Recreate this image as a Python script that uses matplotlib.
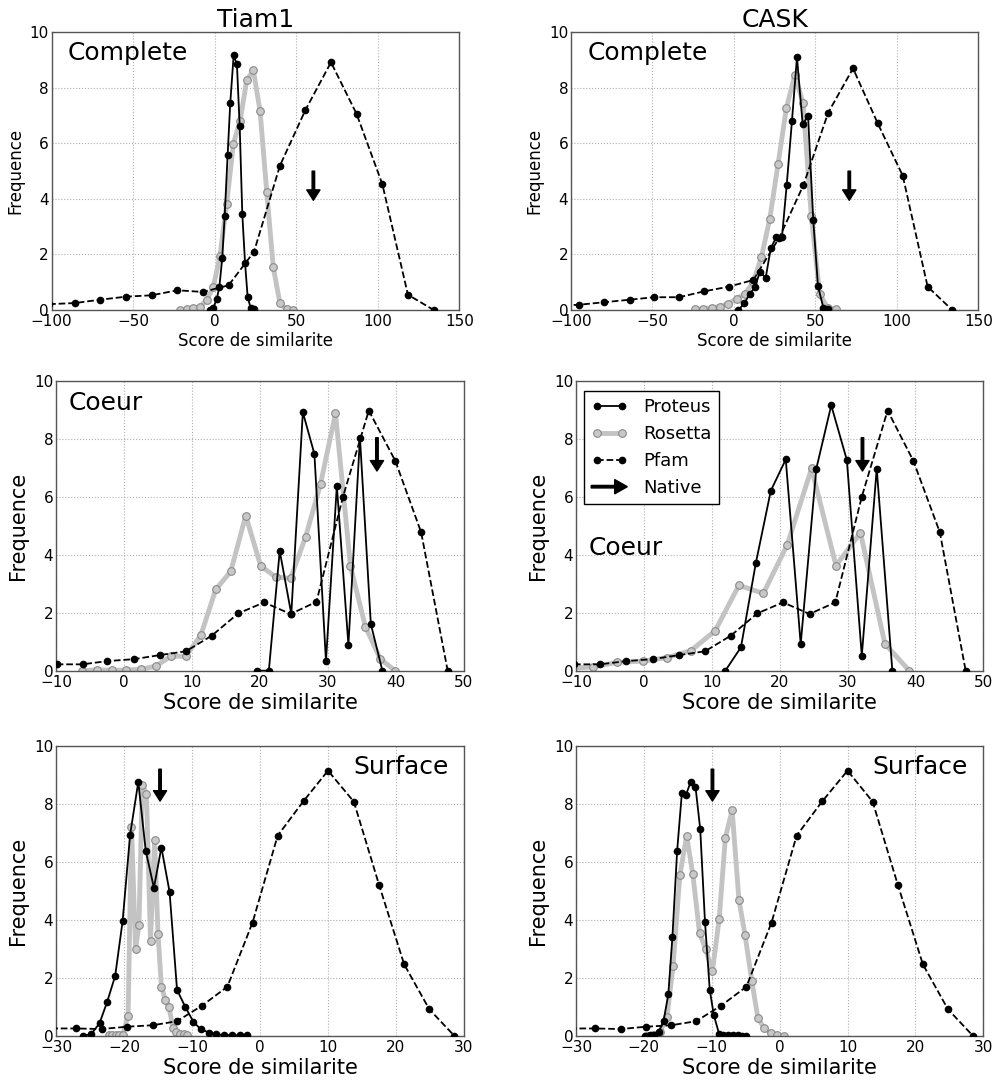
import numpy as np
import matplotlib
matplotlib.use("Agg")
import matplotlib.pyplot as plt
from matplotlib.lines import Line2D
from matplotlib.patches import FancyArrow
from matplotlib.legend_handler import HandlerPatch

# ---- Tiam1 / Complete
t1_comp_proteus_x = [-2.9, -0.9, 1.2, 2.8, 4.6, 6.1, 7.9, 9.5, 11.6, 13.6, 15.3, 16.9, 18.6, 20.2, 22.0, 24.1]
t1_comp_proteus_y = [0.0, 0.08, 0.39, 0.82, 1.86, 3.40, 5.57, 7.44, 9.17, 8.85, 6.63, 3.46, 1.68, 0.46, 0.08, 0.02]
t1_comp_rosetta_x = [-21.3, -17.2, -13.1, -9.0, -4.9, -0.9, 3.2, 7.3, 11.4, 15.5, 19.6, 23.7, 27.8, 31.9, 35.9, 40.0, 44.1, 48.2]
t1_comp_rosetta_y = [0.0, 0.02, 0.06, 0.11, 0.36, 0.82, 1.94, 3.82, 5.98, 6.79, 8.27, 8.63, 7.16, 4.25, 1.54, 0.24, 0.02, 0.01]
t1_comp_pfam_x = [-101.6, -85.9, -70.4, -54.4, -38.7, -22.9, -7.2, 8.5, 24.1, 40.0, 55.6, 71.3, 87.0, 102.8, 118.5, 134.3]
t1_comp_pfam_y = [0.21, 0.25, 0.37, 0.48, 0.53, 0.71, 0.65, 0.89, 2.1, 5.2, 7.2, 8.92, 7.06, 4.53, 0.55, 0.0]

# ---- CASK / Complete
ck_comp_proteus_x = [2.7, 6.4, 9.7, 12.9, 16.0, 19.5, 22.6, 26.0, 29.5, 32.4, 35.6, 38.7, 42.2, 45.5, 48.7, 51.6, 54.9, 57.9]
ck_comp_proteus_y = [0.0, 0.24, 0.58, 0.82, 1.38, 1.16, 2.22, 2.62, 2.63, 4.50, 6.79, 9.10, 6.69, 6.99, 3.23, 0.86, 0.08, 0.02]
ck_comp_rosetta_x = [-23.9, -18.8, -13.7, -8.6, -3.5, 1.6, 6.7, 11.8, 16.9, 22.0, 27.1, 32.2, 37.3, 42.4, 47.5, 52.6, 57.7, 62.8]
ck_comp_rosetta_y = [0.02, 0.05, 0.08, 0.12, 0.23, 0.41, 0.58, 1.00, 1.91, 3.28, 5.26, 7.27, 8.45, 7.47, 3.39, 0.58, 0.06, 0.02]
ck_comp_pfam_x = [-110.1, -94.9, -79.6, -64.0, -49.1, -33.7, -18.4, -3.2, 11.9, 27.8, 42.6, 57.9, 73.1, 88.2, 103.6, 118.9, 134.0]
ck_comp_pfam_y = [0.15, 0.19, 0.28, 0.37, 0.46, 0.46, 0.67, 0.84, 1.08, 2.60, 4.49, 7.11, 8.70, 6.73, 4.84, 0.84, 0.0]

# ---- Tiam1 / Coeur
t1_core_proteus_x = [19.5, 21.3, 22.9, 24.6, 26.3, 28.0, 29.7, 31.3, 33.0, 34.7, 36.3, 38.0]
t1_core_proteus_y = [0.0, 0.0, 4.14, 1.96, 8.93, 7.49, 0.33, 6.39, 0.89, 8.05, 1.61, 0.0]
t1_core_rosetta_x = [-6.2, -4.0, -1.8, 0.3, 2.5, 4.7, 6.9, 9.1, 11.3, 13.5, 15.7, 17.9, 20.1, 22.3, 24.5, 26.7, 28.9, 31.1, 33.3, 35.5, 37.7, 39.9]
t1_core_rosetta_y = [0.0, 0.03, 0.02, 0.02, 0.05, 0.16, 0.50, 0.50, 1.23, 2.81, 3.43, 5.36, 3.62, 3.24, 3.19, 4.62, 6.45, 8.89, 3.62, 1.52, 0.40, 0.0]
t1_core_pfam_x = [-9.9, -6.1, -2.5, 1.5, 5.3, 9.1, 12.9, 16.8, 20.6, 24.5, 28.3, 32.2, 36.0, 39.9, 43.7, 47.6]
t1_core_pfam_y = [0.22, 0.22, 0.33, 0.40, 0.54, 0.67, 1.21, 1.98, 2.36, 1.96, 2.38, 6.01, 8.99, 7.25, 4.78, 0.0]

# ---- CASK / Coeur
ck_core_proteus_x = [12.0, 14.3, 16.5, 18.7, 20.9, 23.1, 25.4, 27.6, 29.9, 32.1, 34.3, 36.6]
ck_core_proteus_y = [0.0, 0.81, 3.73, 6.22, 7.30, 0.92, 6.98, 9.17, 7.28, 0.51, 6.98, 0.0]
ck_core_rosetta_x = [-11.0, -7.5, -3.9, -0.2, 3.4, 6.9, 10.5, 14.0, 17.6, 21.1, 24.7, 28.3, 31.9, 35.5, 39.1]
ck_core_rosetta_y = [0.08, 0.13, 0.29, 0.33, 0.45, 0.69, 1.38, 2.95, 2.67, 4.34, 6.99, 3.63, 4.77, 0.93, 0.0]
ck_core_pfam_x = [-10.3, -6.5, -2.6, 1.3, 5.2, 9.0, 12.8, 16.7, 20.5, 24.4, 28.2, 32.1, 35.9, 39.7, 43.6, 47.4]
ck_core_pfam_y = [0.22, 0.22, 0.33, 0.40, 0.54, 0.67, 1.21, 1.98, 2.36, 1.96, 2.36, 6.01, 8.99, 7.25, 4.78, 0.0]

# ---- Tiam1 / Surface
t1_surf_proteus_x = [-26.0, -24.8, -23.6, -22.5, -21.3, -20.2, -19.1, -17.9, -16.8, -15.6, -14.5, -13.3, -12.2, -11.0, -9.8, -8.7, -7.5, -6.4, -5.3, -4.1, -2.9, -1.9]
t1_surf_proteus_y = [0.0, 0.07, 0.44, 1.16, 2.07, 3.97, 6.94, 8.76, 6.38, 5.11, 6.50, 4.97, 1.59, 1.01, 0.49, 0.23, 0.12, 0.06, 0.03, 0.03, 0.02, 0.02]
t1_surf_rosetta_x = [-22.2, -21.7, -21.2, -20.7, -20.2, -19.4, -18.9, -18.3, -17.8, -17.3, -16.7, -16.1, -15.5, -15.0, -14.5, -13.9, -13.4, -12.8, -12.3, -11.8, -11.2, -10.7]
t1_surf_rosetta_y = [0.02, 0.02, 0.02, 0.02, 0.03, 0.70, 7.22, 2.99, 3.84, 8.67, 8.33, 3.29, 6.76, 3.52, 1.70, 1.24, 1.01, 0.29, 0.13, 0.07, 0.07, 0.02]
t1_surf_pfam_x = [-30.7, -27.0, -23.3, -19.6, -15.8, -12.2, -8.5, -4.8, -1.1, 2.6, 6.4, 10.0, 13.8, 17.5, 21.2, 24.9, 28.6]
t1_surf_pfam_y = [0.26, 0.26, 0.24, 0.32, 0.37, 0.51, 1.05, 1.70, 3.91, 6.91, 8.10, 9.15, 8.08, 5.22, 2.47, 0.92, 0.0]

# ---- CASK / Surface
ck_surf_proteus_x = [-19.8, -19.1, -18.5, -17.8, -17.1, -16.4, -15.8, -15.1, -14.4, -13.8, -13.1, -12.4, -11.7, -11.0, -10.3, -9.7, -8.9, -8.3, -7.6, -6.9, -6.2, -5.6, -4.9]
ck_surf_proteus_y = [0.0, 0.02, 0.05, 0.15, 0.52, 1.44, 3.41, 6.39, 8.39, 8.32, 8.76, 8.60, 7.13, 3.94, 1.60, 0.72, 0.06, 0.03, 0.02, 0.02, 0.02, 0.01, 0.0]
ck_surf_rosetta_x = [-19.6, -18.6, -17.6, -16.6, -15.7, -14.7, -13.7, -12.8, -11.8, -10.9, -9.9, -8.9, -8.0, -7.0, -6.0, -5.1, -4.1, -3.2, -2.3, -1.3, -0.4, 0.6]
ck_surf_rosetta_y = [0.0, 0.02, 0.15, 0.66, 2.42, 5.55, 6.90, 5.59, 3.55, 2.99, 2.24, 4.05, 6.83, 7.78, 4.70, 3.48, 1.90, 0.61, 0.29, 0.09, 0.02, 0.0]
ck_surf_pfam_x = [-30.9, -27.2, -23.4, -19.7, -16.0, -12.3, -8.6, -4.9, -1.2, 2.5, 6.3, 10.0, 13.7, 17.4, 21.1, 24.8, 28.5]
ck_surf_pfam_y = [0.26, 0.26, 0.24, 0.32, 0.37, 0.51, 1.05, 1.70, 3.91, 6.91, 8.10, 9.15, 8.08, 5.22, 2.47, 0.92, 0.0]

# native score (arrow) per panel
native_x = {"t1_comp": 60.5, "ck_comp": 70.8, "t1_core": 37.2, "ck_core": 32.2, "t1_surf": -14.7, "ck_surf": -9.9}

proteins = ["Tiam1", "CASK"]
regions = ["Complete", "Coeur", "Surface"]

ROS_LINE = "#c3c3c3"
ROS_FACE = "#c8c8c8"
ROS_EDGE = "#8a8a8a"

W, H = 995, 1082
fig = plt.figure(figsize=(W / 100, H / 100), dpi=100, facecolor="white")


def make_ax(l, t, r, b):
    return fig.add_axes([l / W, 1 - b / H, (r - l) / W, (b - t) / H])


def draw(ax, prot, ros, pfam, nat, arrow_y, xlim, xticks, lab_size, tick_size):
    ax.plot(ros[0], ros[1], "-", color=ROS_LINE, lw=3.5, marker="o", ms=5.5,
            mfc=ROS_FACE, mec=ROS_EDGE, mew=0.8, zorder=2)
    ax.plot(pfam[0], pfam[1], "--", color="black", lw=1.3, marker="o", ms=4.5,
            mfc="black", mec="black", zorder=3)
    ax.plot(prot[0], prot[1], "-", color="black", lw=1.3, marker="o", ms=4.5,
            mfc="black", mec="black", zorder=4)
    ax.annotate("", xy=(nat, arrow_y[1]), xytext=(nat, arrow_y[0]),
                arrowprops=dict(width=1.8, headwidth=9.5, headlength=7.5,
                                shrink=0, facecolor="black", edgecolor="black"),
                zorder=5)
    ax.set_xlim(*xlim)
    ax.set_ylim(0, 10)
    ax.set_xticks(xticks)
    ax.set_yticks([0, 2, 4, 6, 8, 10])
    ax.set_xticklabels([str(v).replace("-", "\u2212") for v in xticks])
    ax.grid(True, color="#b0b0b0", linestyle=":", linewidth=0.8)
    ax.set_axisbelow(True)
    ax.tick_params(axis="both", length=0, labelsize=tick_size, pad=3)
    ax.tick_params(axis="y", pad=2)
    for s in ax.spines.values():
        s.set_color("#555555")
        s.set_linewidth(1.0)
    ax.set_xlabel("Score de similarite", fontsize=lab_size, labelpad=2)
    ax.set_ylabel("Frequence", fontsize=lab_size, labelpad=4)


boxes = {
    "t1_comp": (51.7, 32.3, 459.3, 310.0),
    "ck_comp": (571.0, 32.3, 978.3, 310.0),
    "t1_core": (56.0, 381.3, 464.0, 670.7),
    "ck_core": (576.0, 381.3, 983.3, 670.7),
    "t1_surf": (56.0, 746.0, 464.0, 1036.0),
    "ck_surf": (576.0, 746.0, 983.3, 1036.0),
}

axes = {k: make_ax(*v) for k, v in boxes.items()}

comp_ticks = [-100, -50, 0, 50, 100, 150]
core_ticks = [-10, 0, 10, 20, 30, 40, 50]
surf_ticks = [-30, -20, -10, 0, 10, 20, 30]

draw(axes["t1_comp"], (t1_comp_proteus_x, t1_comp_proteus_y), (t1_comp_rosetta_x, t1_comp_rosetta_y),
     (t1_comp_pfam_x, t1_comp_pfam_y), native_x["t1_comp"], (5.0, 3.95), (-100, 150), comp_ticks, 12, 11)
draw(axes["ck_comp"], (ck_comp_proteus_x, ck_comp_proteus_y), (ck_comp_rosetta_x, ck_comp_rosetta_y),
     (ck_comp_pfam_x, ck_comp_pfam_y), native_x["ck_comp"], (5.0, 3.95), (-100, 150), comp_ticks, 12, 11)
draw(axes["t1_core"], (t1_core_proteus_x, t1_core_proteus_y), (t1_core_rosetta_x, t1_core_rosetta_y),
     (t1_core_pfam_x, t1_core_pfam_y), native_x["t1_core"], (8.05, 6.9), (-10, 50), core_ticks, 15, 11)
draw(axes["ck_core"], (ck_core_proteus_x, ck_core_proteus_y), (ck_core_rosetta_x, ck_core_rosetta_y),
     (ck_core_pfam_x, ck_core_pfam_y), native_x["ck_core"], (8.05, 6.9), (-10, 50), core_ticks, 15, 11)
draw(axes["t1_surf"], (t1_surf_proteus_x, t1_surf_proteus_y), (t1_surf_rosetta_x, t1_surf_rosetta_y),
     (t1_surf_pfam_x, t1_surf_pfam_y), native_x["t1_surf"], (9.2, 8.1), (-30, 30), surf_ticks, 15, 11)
draw(axes["ck_surf"], (ck_surf_proteus_x, ck_surf_proteus_y), (ck_surf_rosetta_x, ck_surf_rosetta_y),
     (ck_surf_pfam_x, ck_surf_pfam_y), native_x["ck_surf"], (9.2, 8.1), (-30, 30), surf_ticks, 15, 11)

axes["t1_comp"].set_title(proteins[0], fontsize=18, pad=3)
axes["ck_comp"].set_title(proteins[1], fontsize=18, pad=3)

axes["t1_comp"].text(0.04, 0.925, regions[0], transform=axes["t1_comp"].transAxes, fontsize=18, va="center")
axes["ck_comp"].text(0.04, 0.925, regions[0], transform=axes["ck_comp"].transAxes, fontsize=18, va="center")
axes["t1_core"].text(0.03, 0.924, regions[1], transform=axes["t1_core"].transAxes, fontsize=18, va="center")
axes["ck_core"].text(0.03, 0.423, regions[1], transform=axes["ck_core"].transAxes, fontsize=18, va="center")
axes["t1_surf"].text(0.963, 0.927, regions[2], transform=axes["t1_surf"].transAxes, fontsize=18, va="center", ha="right")
axes["ck_surf"].text(0.962, 0.927, regions[2], transform=axes["ck_surf"].transAxes, fontsize=18, va="center", ha="right")


# legend with an arrow handle for the native score
def arrow_patch(legend, orig_handle, xdescent, ydescent, width, height, fontsize):
    return FancyArrow(0, height / 2, width, 0, width=1.8, length_includes_head=True,
                      head_width=0.8 * height + 3, head_length=0.35 * width, color="black")


handles = [
    Line2D([], [], color="black", lw=1.3, marker="o", ms=4.5),
    Line2D([], [], color=ROS_LINE, lw=3.5, marker="o", ms=5.5, mfc=ROS_FACE, mec=ROS_EDGE, mew=0.8),
    Line2D([], [], color="black", lw=1.3, ls="--", marker="o", ms=4.5),
    FancyArrow(0, 0, 1, 0, color="black"),
]
leg = axes["ck_core"].legend(handles, ["Proteus", "Rosetta", "Pfam", "Native"], loc="upper left",
                             bbox_to_anchor=(0.0196, 0.9675), borderaxespad=0, numpoints=2,
                             fontsize=13, fancybox=False, framealpha=1, edgecolor="black",
                             handlelength=2.0, handletextpad=0.9, labelspacing=0.5,
                             handler_map={FancyArrow: HandlerPatch(patch_func=arrow_patch)})
leg.get_frame().set_linewidth(1.0)

fig.savefig("out.png", dpi=100, facecolor="white")
